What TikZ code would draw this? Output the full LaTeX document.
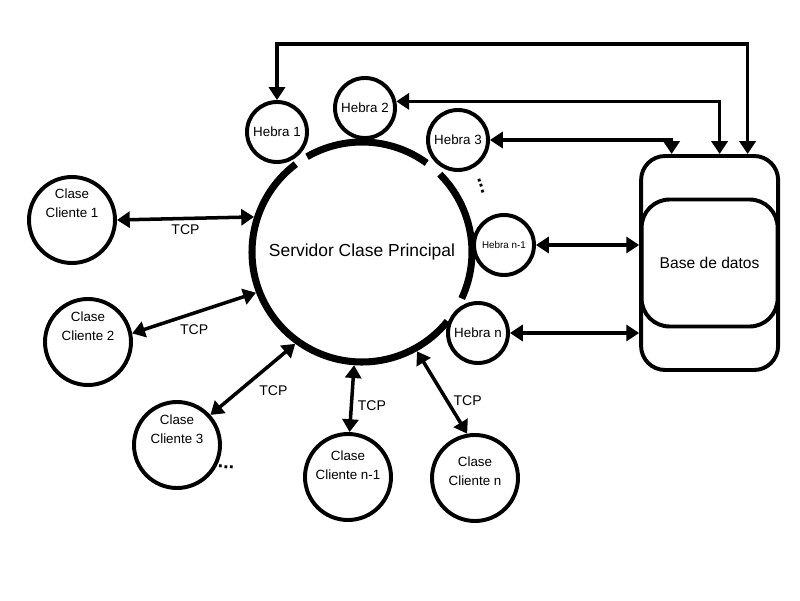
\documentclass[tikz,border=0pt]{standalone}
\usepackage{fontspec}
\setmainfont{Liberation Sans}
\usetikzlibrary{arrows.meta, calc}

\begin{document}
\begin{tikzpicture}[>={Triangle[length=0.32cm, width=0.4cm]}, line width=2.5pt,
  hebra/.style={circle, draw=black, line width=2.8pt, minimum size=1.5cm, inner sep=0pt, font=\fontsize{9.5}{11}\selectfont},
  cliente/.style={circle, draw=black, line width=2.8pt, minimum size=2.15cm},
  clabel/.style={align=center, font=\fontsize{9.5}{13.5}\selectfont, yshift=#1},
  clabel/.default=0.4cm,
  tcp/.style={font=\fontsize{10}{12}\selectfont},
  dots/.style={font=\fontsize{14}{14}\selectfont\bfseries}]
  \useasboundingbox (0,0) rectangle (20,15);

  \node[circle, minimum size=5.5cm, outer sep=2.5pt, font=\fontsize{12.4}{15}\selectfont] (srv) at (9.05,8.7) {Servidor Clase Principal};
  \draw[line width=5pt] ([shift={(127:2.75)}]srv.center) arc[start angle=127, end angle=321, radius=2.75];
  \draw[line width=5pt] ([shift={(54:2.75)}]srv.center) arc[start angle=54, end angle=120, radius=2.75];
  \draw[line width=5pt] ([shift={(45:2.75)}]srv.center) arc[start angle=45, end angle=-25, radius=2.75];

  \node[hebra] (h1) at (6.925,11.7) {Hebra 1};
  \node[hebra] (h2) at (9.125,12.3) {Hebra 2};
  \node[hebra] (h3) at (11.45,11.5) {Hebra 3};
  \node[hebra, font=\fontsize{7}{8}\selectfont] (hn1) at (12.6,8.875) {Hebra n-1};
  \node[hebra] (hn) at (11.95,6.675) {Hebra n};
  \node[dots, rotate=-72] (puntos1) at (12.025,10.35) {...};

  \node[cliente, label={[clabel=0.42cm]center:Clase\\Cliente 1}] (c1) at (1.8,9.5) {};
  \node[cliente, label={[clabel]center:Clase\\Cliente 2}] (c2) at (2.2,6.45) {};
  \node[cliente, label={[clabel]center:Clase\\Cliente 3}] (c3) at (4.425,3.875) {};
  \node[cliente, label={[clabel=0.3cm]center:Clase\\Cliente n-1}] (cn1) at (8.7,3.075) {};
  \node[cliente, label={[clabel=0.18cm]center:Clase\\Cliente n}] (cn) at (11.875,3.05) {};
  \node[dots, rotate=-5] (puntos2) at (5.65,3.325) {...};

  \node[draw, rounded corners=0.6cm, minimum width=3.425cm, minimum height=5.35cm, line width=2.8pt] (base) at (17.74,8.425) {};
  \node[draw, rounded corners=0.7cm, minimum width=3.4cm, minimum height=3.175cm, line width=2.8pt, font=\fontsize{11.1}{13}\selectfont] (bd) at (base.center) {Base de datos};

  \draw[<->] (c1.east) -- node[tcp, below] {TCP} (srv.162);
  \draw[<->] (c2.11) -- node[tcp, below=4pt] {TCP} (srv.201);
  \draw[<->] (c3.42) -- node[tcp, below right] {TCP} (srv.234);
  \draw[<->] (cn1.88) -- node[tcp, right, pos=.4] {TCP} (srv.266);
  \draw[<->] (cn.100) -- node[tcp, right, pos=.4] {TCP} (srv.299);

  \draw[<->] (h1.north) -- ++(0,1.4) -| ([xshift=0.95cm]base.north);
  \draw[<->] (h2.12) -| ([xshift=0.25cm]base.north);
  \draw[<->] (h3.east) -| ([xshift=-0.95cm]base.north);
  \draw[<->] (hn1.east) -- (hn1.east -| base.west);
  \draw[<->] (hn.east) -- (hn.east -| base.west);
\end{tikzpicture}
\end{document}
